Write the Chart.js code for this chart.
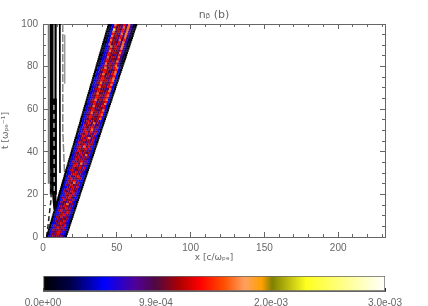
<!DOCTYPE html>
<html><head><meta charset="utf-8">
<style>html,body{margin:0;padding:0;background:#fff}canvas{display:block}</style>
<script src="https://cdn.jsdelivr.net/npm/chart.js@4"></script></head>
<body><canvas id="c" width="428" height="270"></canvas><canvas id="b" width="428" height="36"></canvas>
<script>
const titleText='nᵦ (b)', xTitle='x [c/ωₚₑ]', yTitle='t [ωₚₑ⁻¹]';
const colorbarTicks=[0,9.9e-4,2.0e-3,3.0e-3];
const colorbarLabels=['0.0e+00','9.9e-04','2.0e-03','3.0e-03'];
const levelValues=[0,2.4e-4,5.2e-4,7.8e-4,9.8e-4,1.2e-3,1.36e-3,1.65e-3,2e-3,2.3e-3];
const maxDensity=3e-3;
const mapStops=[[0,'#000000'],[0.08,'#000048'],[0.18,'#0000ff'],[0.27,'#500098'],[0.33,'#500840'],[0.40,'#b00000'],[0.46,'#ff0000'],[0.53,'#ff5000'],[0.59,'#ffa060'],[0.64,'#ffa000'],[0.67,'#808000'],[0.77,'#ffff20'],[0.87,'#ffff80'],[1,'#ffffff']];
const rowTimes=[.5,1.5,2.5,3.5,4.5,5.5,6.5,7.5,8.5,9.5,10.5,11.5,12.5,13.5,14.5,15.5,16.5,17.5,18.5,19.5,20.5,21.5,22.5,23.5,24.5,25.5,26.5,27.5,28.5,29.5,30.5,31.5,32.5,33.5,34.5,35.5,36.5,37.5,38.5,39.5,40.5,41.5,42.5,43.5,44.5,45.5,46.5,47.5,48.5,49.5,50.5,51.5,52.5,53.5,54.5,55.5,56.5,57.5,58.5,59.5,60.5,61.5,62.5,63.5,64.5,65.5,66.5,67.5,68.5,69.5,70.5,71.5,72.5,73.5,74.5,75.5,76.5,77.5,78.5,79.5,80.5,81.5,82.5,83.5,84.5,85.5,86.5,87.5,88.5,89.5,90.5,91.5,92.5,93.5,94.5,95.5,96.5,97.5,98.5,99.5];
const rowStart=[2.2,2.6,3.1,3.5,3.9,4.3,4.7,5.2,5.6,6,6.4,6.8,7.3,7.7,8.1,8.5,8.9,9.4,9.8,10.2,10.6,11,11.5,11.9,12.3,12.7,13.1,13.6,14,14.4,14.8,15.2,15.7,16.1,16.5,16.9,17.3,17.8,18.2,18.6,19,19.4,19.9,20.3,20.7,21.1,21.5,22,22.4,22.8,23.2,23.6,24.1,24.5,24.9,25.3,25.7,26.2,26.6,27,27.4,27.8,28.3,28.7,29.1,29.5,29.9,30.4,30.8,31.2,31.6,32,32.5,32.9,33.3,33.7,34.1,34.6,35,35.4,35.8,36.2,36.7,37.1,37.5,37.9,38.3,38.8,39.2,39.6,40,40.4,40.9,41.3,41.7,42.1,42.5,43,43.4,43.8];
const rowEnd=[16.2,16.7,17.2,17.7,18.2,18.6,19.1,19.6,20.1,20.6,21,21.5,22,22.5,23,23.4,23.9,24.4,24.9,25.4,25.8,26.3,26.8,27.3,27.8,28.2,28.7,29.2,29.7,30.2,30.6,31.1,31.6,32.1,32.6,33,33.5,34,34.5,35,35.4,35.9,36.4,36.9,37.4,37.8,38.3,38.8,39.3,39.8,40.2,40.7,41.2,41.7,42.2,42.6,43.1,43.6,44.1,44.6,45,45.5,46,46.5,47,47.4,47.9,48.4,48.9,49.4,49.8,50.3,50.8,51.3,51.8,52.2,52.7,53.2,53.7,54.2,54.6,55.1,55.6,56.1,56.6,57,57.5,58,58.5,59,59.4,59.9,60.4,60.9,61.4,61.8,62.3,62.8,63.3,63.8];
const rowLevels=["0235453520","0253563220","0234565320","0254353520","0235645320","0253453620","0224565320","0253546320","0235354520","0254635320",
"0235563420","0224536520","0256345320","0235463520","0253654320","0234573520","0254356320","0236453520","0253564220","0225463520",
"0235546320","0254365320","0236354520","0224563620","0253645320","0235473520","0254563220","0236345520","0253456320","0235654320",
"02354635320","02563453520","02354563620","02465354320","02356473520","02534563320","02364535420","02456353520","02353647320","02546354520",
"02365453420","02354563520","02563746320","02345635520","02654353520","02356453620","02453673520","02365345320","02546353620","02356463520",
"02463574320","02354563520","02645353420","02356473520","02463545320",
"023464545720","023565445620","024463546720","023574535620","023465445720","024564354620","023475446520","023464535720","024563445620","023574546720",
"023465435620","024465546720","023574435620","023465545720","024564434720","023475546620","023464535720","024574445620","023465536720","023565445720",
"024464535620","023574546720","023465435720","024565445620","023474536720",
"0123645457310","0123745346310","0124653547310","0123645446410","0123745537310","0124654346310","0123645547310","0123754446310","0124645537310","0123746447310",
"0127453647310","0126454637310","0127543746310","0126453647410","0127454637310","0126543747310","0127453637310","0129454647310","0126453747310","0127544637310"];
const contourA=[[3.9,100],[3.9,60],[4,25]];
const contourLow=[[2.5,0],[5.5,18],[5,32]];
const contourB=[[5.5,100],[5.5,60],[6,30],[7.9,13]];
const contourC=[[8.6,100],[8.6,60],[8.5,30],[8.2,13]];
const contourD=[[11.3,100],[11.5,30]];
const contourV=[[8.5,13],[14.7,28]];
const contourE=[[13.4,100],[13.4,50],[14.7,28]];
const contourF=[[14.7,95],[14.7,72]];
const contourG=[[6.5,100],[6.4,30]];
const contourFill=[[7,65],[7,20]];
const contourWhite=[[7.4,62],[7.6,20]];

const hex=s=>[1,3,5].map(i=>parseInt(s.substr(i,2),16));
function colorOf(v){const f=v/maxDensity;for(let i=1;i<mapStops.length;i++){if(f<=mapStops[i][0]){const [a,ca]=mapStops[i-1],[b,cb]=mapStops[i];const k=(f-a)/(b-a),A=hex(ca),B=hex(cb);return `rgb(${A.map((c,j)=>Math.round(c+(B[j]-c)*k)).join(',')})`;}}return '#fff';}
const cells=[];rowLevels.forEach((row,r)=>{const p=(rowEnd[r]-rowStart[r])/row.length;[...row].forEach((d,j)=>cells.push({x:rowStart[r]+p*(j+.5),y:rowTimes[r],v:levelValues[+d]}));});
const toPts=a=>a.map(p=>({x:p[0],y:p[1]}));
const line=(a,color,w,dash)=>({type:'scatter',data:toPts(a),showLine:true,pointRadius:0,borderColor:color,borderWidth:w,borderDash:dash||[],order:5});

const XMAX=231.7,TMAX=100,INK='#666';
const tickFont={family:'Liberation Sans',size:10};
function sc(pos,axis,step,len,labels,extra){
  const horiz=axis==='x';
  return Object.assign({type:'linear',position:pos,min:0,max:horiz?XMAX:TMAX,weight:labels?1:-1,
    border:{display:true,color:INK,width:1},
    grid:{drawOnChartArea:false,drawTicks:true,tickLength:-len,tickColor:INK,tickWidth:1},
    ticks:{display:labels,stepSize:step,includeBounds:false,autoSkip:false,maxRotation:0,minRotation:0,padding:10,color:INK,font:tickFont},
    afterFit(s){if(horiz)s.height=0;else s.width=0;}},extra||{});
}
const scales={
 x:sc('bottom','x',50,5,true,{title:{display:true,text:xTitle,color:INK,font:{family:'DejaVu Sans',size:9},padding:{top:0,bottom:7}},afterFit(s){s.height=33;}}),
 y:sc('left','y',20,5,true,{title:{display:true,text:yTitle,color:INK,font:{family:'DejaVu Sans',size:9},padding:{top:0,bottom:8}},afterFit(s){s.width=43;}}),
 xm:sc('bottom','x',10,3,false),ym:sc('left','y',5,3,false),
 xt:sc('top','x',50,5,false),xtm:sc('top','x',10,3,false),
 yr:sc('right','y',20,5,false),yrm:sc('right','y',5,3,false),
 margin:{type:'linear',position:'right',weight:5,border:{display:false},grid:{display:false},ticks:{display:false},afterFit(s){s.width=43;}}
};
new Chart(document.getElementById('c'),{
 type:'scatter',
 data:{datasets:[
  {data:cells,pointStyle:'rect',pointRadius:1.7,pointHoverRadius:1.7,borderWidth:0,pointBorderWidth:0,pointBackgroundColor:c=>colorOf(c.raw?c.raw.v:0),order:1},
  line(contourA,'#777',2),
  line(contourLow,'#222',1.5,[5,3]),
  line(contourB,'#000',2.5),
  line(contourG,'#111',2),
  line(contourFill,'#000',7),
  line(contourC,'#000',2),
  line(contourD,'#000',1.5),
  line(contourV,'#000',2),
  line(contourE,'#888',1.5,[8,2]),
  line(contourF,'#999',1.5),
  Object.assign(line(contourWhite,'#fff',1,[5,4]),{order:2})
 ]},
 options:{responsive:false,animation:false,devicePixelRatio:1,
  plugins:{legend:{display:false},tooltip:{enabled:false},
   title:{display:true,text:titleText,color:INK,font:{family:'DejaVu Sans',size:11,weight:'normal'},padding:{top:9,bottom:1.8}}},
  scales}
});
new Chart(document.getElementById('b'),{
 type:'bar',
 data:{labels:[''],datasets:[{data:[maxDensity],barPercentage:1,categoryPercentage:1,borderColor:INK,borderWidth:1,borderSkipped:false,
   backgroundColor(c){const a=c.chart.chartArea;if(!a)return '#000';const g=c.chart.ctx.createLinearGradient(a.left,0,a.right,0);mapStops.forEach(s=>g.addColorStop(s[0],s[1]));return g;}}]},
 options:{indexAxis:'y',responsive:false,animation:false,devicePixelRatio:1,
  layout:{padding:{left:43,right:43,top:6,bottom:0}},
  plugins:{legend:{display:false},tooltip:{enabled:false}},
  scales:{
   y:{display:false},
   x:{type:'linear',min:0,max:maxDensity,border:{display:true,color:INK},
    grid:{drawOnChartArea:false,tickLength:-3,tickColor:'#222'},
    afterBuildTicks(s){s.ticks=colorbarTicks.map(v=>({value:v}));},
    ticks:{autoSkip:false,maxRotation:0,padding:9,color:INK,font:tickFont,callback:(v,i)=>colorbarLabels[i]},
    afterFit(s){s.height=15;}}
  }}
});
</script></body></html>
